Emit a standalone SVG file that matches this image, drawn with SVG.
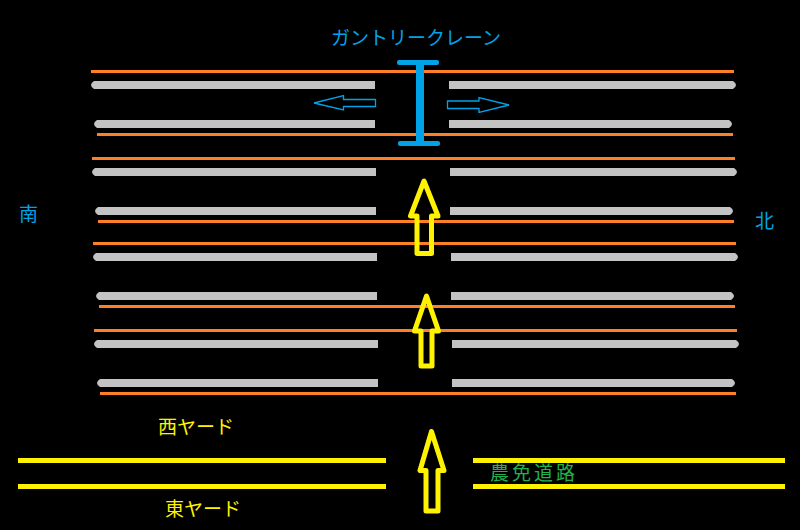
<svg xmlns="http://www.w3.org/2000/svg" width="800" height="530" viewBox="0 0 800 530">
<style>
.o{stroke:#ff7f27;stroke-width:3;fill:none}
.g{fill:#c3c3c3}
.y{stroke:#fff200;stroke-width:5;fill:none}
.a{stroke:#fff200;stroke-width:5;fill:none;stroke-linejoin:round}
.b{stroke:#00a2e8;stroke-width:1.3;fill:none}
.c{fill:#00a2e8}
text{font-family:"Noto Sans CJK JP","Noto Sans",sans-serif;font-size:19px}
.tb{fill:#00a2e8}.ty{fill:#fff200}.tg{fill:#22b14c}
</style>
<rect width="800" height="530" fill="#000"/>
<g id="rails-orange">
<line class="o" x1="91" y1="71.5" x2="734" y2="71.5"/>
<line class="o" x1="97" y1="134.500" x2="733" y2="134.500"/>
<line class="o" x1="92" y1="158.500" x2="735" y2="158.500"/>
<line class="o" x1="98" y1="221.500" x2="734" y2="221.500"/>
<line class="o" x1="93" y1="243.500" x2="736" y2="243.500"/>
<line class="o" x1="99" y1="306.500" x2="735" y2="306.500"/>
<line class="o" x1="94" y1="330.500" x2="737" y2="330.500"/>
<line class="o" x1="100" y1="393.500" x2="736" y2="393.500"/>
</g>
<g id="tracks-grey">
<path class="g" d="M94 81H375V89H94Q91 87 91 85Q91 83 94 81Z"/>
<path class="g" d="M97 120H375V128H97Q94 126 94 124Q94 122 97 120Z"/>
<path class="g" d="M95 168H376V176H95Q92 174 92 172Q92 170 95 168Z"/>
<path class="g" d="M98 207H376V215H98Q95 213 95 211Q95 209 98 207Z"/>
<path class="g" d="M96 253H377V261H96Q93 259 93 257Q93 255 96 253Z"/>
<path class="g" d="M99 292H377V300H99Q96 298 96 296Q96 294 99 292Z"/>
<path class="g" d="M97 340H378V348H97Q94 346 94 344Q94 342 97 340Z"/>
<path class="g" d="M100 379H378V387H100Q97 385 97 383Q97 381 100 379Z"/>
<path class="g" d="M449 81H733Q736 83 736 85Q736 87 733 89H449Z"/>
<path class="g" d="M449 120H729Q732 122 732 124Q732 126 729 128H449Z"/>
<path class="g" d="M450 168H734Q737 170 737 172Q737 174 734 176H450Z"/>
<path class="g" d="M450 207H730Q733 209 733 211Q733 213 730 215H450Z"/>
<path class="g" d="M451 253H735Q738 255 738 257Q738 259 735 261H451Z"/>
<path class="g" d="M451 292H731Q734 294 734 296Q734 298 731 300H451Z"/>
<path class="g" d="M452 340H736Q739 342 739 344Q739 346 736 348H452Z"/>
<path class="g" d="M452 379H732Q735 381 735 383Q735 385 732 387H452Z"/>
</g>
<g id="gantry-crane">
<rect class="c" x="397" y="60" width="42" height="5" rx="2"/>
<rect class="c" x="416" y="62" width="8" height="80"/>
<rect class="c" x="398" y="141" width="42" height="5" rx="2"/>
</g>
<g id="connectors">
<path class="b" d="M375.500 99.500V106.500H343.500V110L314 103L343.500 95.500V99.500Z"/>
<path class="b" d="M447.500 101V108.500H479V112.500L509 105L479 97.500V101Z"/>
<path class="a" d="M424 181L410.500 216H417V253.500H431.500V216H438Z"/>
<path class="a" d="M426.500 296L414.500 331H421V366H432V331H438.500Z"/>
<path class="a" d="M431.500 431.500L420 470.500H426V511H438V470.500H444Z"/>
</g>
<g id="roads">
<line class="y" x1="18" y1="460.500" x2="386" y2="460.500"/>
<line class="y" x1="18" y1="486.500" x2="386" y2="486.500"/>
<line class="y" x1="473" y1="460.500" x2="785" y2="460.500"/>
<line class="y" x1="473" y1="486.500" x2="785" y2="486.500"/>
</g>
<g id="labels">
<text class="tb" x="331" y="45">ガントリークレーン</text>
<text class="tb" x="19" y="221">南</text>
<text class="tb" x="755" y="228">北</text>
<text class="ty" x="158" y="434">西ヤード</text>
<text class="ty" x="165" y="516">東ヤード</text>
<text class="tg" x="490" y="480" letter-spacing="3">農免道路</text>
</g>
</svg>
